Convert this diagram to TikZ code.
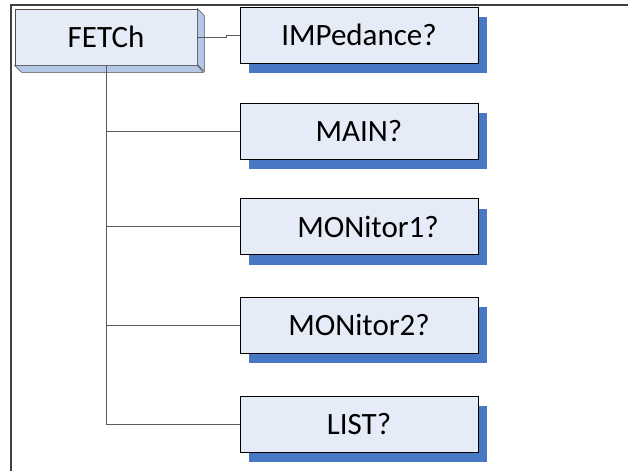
\documentclass[tikz,border=0pt]{standalone}
\usepackage{fontspec}
\setmainfont{Carlito}
\usetikzlibrary{shadows}
\definecolor{boxfill}{HTML}{E6ECF7}
\definecolor{bevelfill}{HTML}{B4C7E7}
\definecolor{shadowblue}{HTML}{4878C4}
\definecolor{linegray}{HTML}{5A5A5A}
\tikzset{
  cmdbox/.style={draw=black,fill=boxfill,line width=0.8pt,minimum width=238pt,minimum height=56pt,
    inner sep=0pt,font=\fontsize{31}{31}\selectfont,
    drop shadow={shadow xshift=9pt,shadow yshift=-10pt,fill=shadowblue,opacity=1}},
  rootbox/.style={draw=black!70,fill=boxfill,line width=0.8pt,minimum width=182pt,minimum height=56pt,
    inner sep=0pt,font=\fontsize{31}{31}\selectfont},
  tree/.style={draw=linegray,line width=1pt}
}
\begin{document}
\begin{tikzpicture}[x=1pt,y=-1pt]
  \useasboundingbox (0,0) rectangle (628,471);

  % 外框
  \draw[line width=1.4pt,black!75] (628,5) -- (11,5) -- (11,471);

  % 根节点
  \node[rootbox] (fetch) at (106,37) {FETCh};
  \draw[fill=bevelfill,draw=black!70,line width=0.6pt]
    (fetch.north east) -- ++(7,7) -- ++(0,56) -- ++(-7,-7) -- cycle;
  \draw[fill=bevelfill,draw=black!70,line width=0.6pt]
    (fetch.south west) -- ++(7,7) -- ++(182,0) -- (fetch.south east) -- cycle;

  % 子节点
  \node[cmdbox] (imp) at (359,35) {IMPedance?};
  \node[cmdbox] (main) at (359,131) {MAIN?};
  \node[cmdbox] (mon1) at (359,226.5) {\hspace{18pt}MONitor1?};
  \node[cmdbox] (mon2) at (359,325) {MONitor2?};
  \node[cmdbox] (list) at (359,424) {LIST?};

  % 连线
  \draw[tree] (fetch.east) -- ++(29,0) |- (imp.west);
  \draw[tree] (fetch.south) |- (list.west);
  \foreach \n in {main,mon1,mon2}
    \draw[tree] (fetch.south |- \n.west) -- (\n.west);
\end{tikzpicture}
\end{document}
